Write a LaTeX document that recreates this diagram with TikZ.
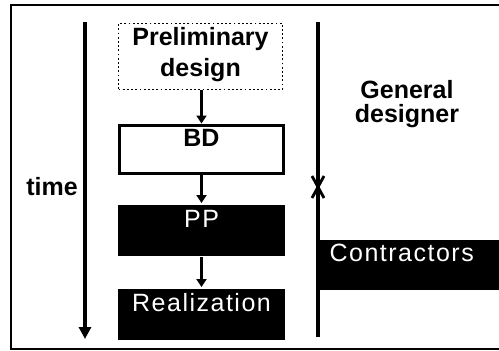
\documentclass[tikz,border=0pt]{standalone}
\usepackage{fontspec}
\setmainfont{Liberation Sans}
\newfontfamily\boxfont[LetterSpace=6]{Liberation Sans}
\usetikzlibrary{arrows.meta,positioning}

\tikzset{
  stage/.style={minimum width=167pt, inner xsep=0pt, inner ysep=4.5pt,
    text height=18pt, text depth=24pt, anchor=north, line width=3.2pt,
    font=\fontsize{25}{28}\selectfont\bfseries},
  darkstage/.style={stage, fill=black, text=white, font=\fontsize{25}{28}\boxfont},
  flow/.style={line width=3pt, -{Triangle[length=8pt,width=10pt]}},
  axis/.style={line width=3.2pt}
}

\begin{document}
\begin{tikzpicture}[x=1pt,y=-1pt]
\useasboundingbox (0,0) rectangle (499,351);
\clip (0,0) rectangle (499,351);

% frame
\draw[line width=2.4pt] (505,5) -- (11,5) -- (11,349) -- (505,349);

% time axis
\coordinate (ttop) at (85,22);
\coordinate (tbot) at (85,339);
\draw[axis,-{Triangle[length=12pt,width=12pt]}] (ttop) -- (tbot);
\node[anchor=base, font=\fontsize{25}{28}\selectfont\bfseries] (time) at (52,195) {time};

% stages
\node[draw, dash pattern=on 1.8pt off 2.4pt, line width=1.8pt, minimum width=164pt,
  minimum height=66pt, anchor=north, align=center, inner sep=0pt,
  font=\fontsize{25}{31}\selectfont\bfseries] (prelim) at (200.5,22.5)
  {\raisebox{2pt}[\height][\depth]{\begin{tabular}{@{}c@{}}Preliminary\\design\end{tabular}}};
\node[stage, draw, minimum width=164pt, inner ysep=3pt] (bd) at (201.5,123.5) {BD};
\node[darkstage] (pp) at (201.5,203) {PP};
\node[darkstage] (real) at (201.5,287) {Realization};

\draw[flow] (prelim.south -| bd.north) -- (bd.north);
\draw[flow] (bd) -- (pp);
\draw[flow] (pp) -- (real);

% general designer
\coordinate (gtop) at (318,22);
\coordinate (gbot) at (318,337);
\draw[axis] (gtop) -- (gbot);
\node[align=center, font=\fontsize{25}{24}\selectfont\bfseries] (gd) at (407,104) {General\\designer};
\draw[line width=2.8pt] (312,176) -- (324,198);
\draw[line width=2.8pt] (324,176) -- (312,198);

\node[darkstage, anchor=north west, minimum width=0pt, text width=170pt,
  align=left, inner xsep=10pt, inner ysep=4pt, text depth=24pt] (contr) at (318,238) {Contractors};
\end{tikzpicture}
\end{document}
